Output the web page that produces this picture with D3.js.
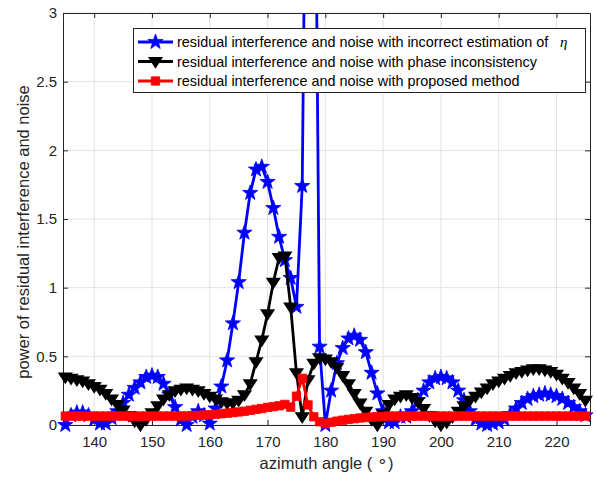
<!DOCTYPE html>
<html>
<head>
<meta charset="utf-8">
<script src="https://cdn.jsdelivr.net/npm/d3@7"></script>
<style>
	body { margin: 0; background: #ffffff; }
	svg { display: block; font-family: Arial, 'Liberation Sans', Helvetica, sans-serif; }
</style>
</head>
<body>
<svg id="chart" width="596" height="477"></svg>
<script>

// azimuth angles in degrees, one sample per degree
var aAngles = d3.range(135, 226, 1);

// residual interference and noise with incorrect estimation of eta
var aIncorrectEta = [
	0.00, 0.07, 0.09, 0.09, 0.07, 0.04, 0.01, 0.01, 0.05, 0.10,
	0.16, 0.22, 0.27, 0.31, 0.35, 0.36, 0.35, 0.30, 0.22, 0.13,
	0.04, 0.00, 0.06, 0.10, 0.07, 0.01, 0.12, 0.28, 0.47, 0.74,
	1.04, 1.40, 1.69, 1.86, 1.88, 1.77, 1.58, 1.37, 1.20, 1.07,
	0.86, 1.74, 6.00, 5.60, 0.57, 0.00, 0.25, 0.45, 0.56, 0.63,
	0.65, 0.62, 0.53, 0.38, 0.23, 0.10, 0.02, 0.02, 0.06, 0.06,
	0.10, 0.18, 0.25, 0.31, 0.34, 0.35, 0.34, 0.31, 0.25, 0.18,
	0.10, 0.04, 0.01, 0.00, 0.01, 0.02, 0.04, 0.08, 0.12, 0.16,
	0.19, 0.21, 0.22, 0.23, 0.22, 0.21, 0.19, 0.16, 0.13, 0.10,
	0.07
];

// residual interference and noise with phase inconsistency
var aPhaseInconsistency = [
	0.35, 0.34, 0.33, 0.32, 0.30, 0.28, 0.26, 0.23, 0.19, 0.15,
	0.11, 0.07, 0.03, 0.00, 0.04, 0.09, 0.14, 0.19, 0.22, 0.25,
	0.26, 0.27, 0.26, 0.25, 0.23, 0.21, 0.19, 0.17, 0.16, 0.16,
	0.18, 0.22, 0.30, 0.46, 0.62, 0.81, 1.04, 1.22, 1.23, 0.86,
	0.38, 0.06, 0.33, 0.45, 0.49, 0.48, 0.46, 0.42, 0.36, 0.30,
	0.23, 0.16, 0.10, 0.04, 0.00, 0.08, 0.15, 0.19, 0.21, 0.22,
	0.20, 0.17, 0.12, 0.07, 0.03, 0.00, 0.02, 0.06, 0.10, 0.14,
	0.18, 0.21, 0.24, 0.27, 0.30, 0.32, 0.34, 0.36, 0.38, 0.39,
	0.40, 0.41, 0.41, 0.40, 0.39, 0.37, 0.34, 0.31, 0.27, 0.23,
	0.18
];

// residual interference and noise with proposed method
var aProposed = [
	0.065, 0.065, 0.065, 0.065, 0.065, 0.065, 0.065, 0.065, 0.065, 0.065,
	0.065, 0.065, 0.065, 0.065, 0.065, 0.065, 0.065, 0.065, 0.065, 0.065,
	0.065, 0.066, 0.068, 0.070, 0.072, 0.075, 0.078, 0.082, 0.086, 0.090,
	0.095, 0.100, 0.107, 0.114, 0.120, 0.128, 0.134, 0.140, 0.150, 0.130,
	0.210, 0.340, 0.146, 0.060, 0.024, 0.010, 0.020, 0.028, 0.035, 0.041,
	0.046, 0.051, 0.055, 0.058, 0.060, 0.062, 0.065, 0.065, 0.065, 0.065,
	0.065, 0.065, 0.065, 0.065, 0.065, 0.065, 0.065, 0.065, 0.065, 0.065,
	0.065, 0.065, 0.065, 0.065, 0.065, 0.065, 0.065, 0.065, 0.065, 0.065,
	0.065, 0.065, 0.065, 0.065, 0.065, 0.065, 0.065, 0.065, 0.065, 0.065,
	0.065
];

var aXTicks = [140, 150, 160, 170, 180, 190, 200, 210, 220];
var aYTicks = [0, 0.5, 1, 1.5, 2, 2.5, 3];

var aLegendLabels = [
	'residual interference and noise with incorrect estimation of',
	'residual interference and noise with phase inconsistency',
	'residual interference and noise with proposed method'
];

function DrawChart()
{
	var sSvg = d3.select('#chart');

	const strAxisColor = '#262626';
	const strGridColor = '#e3e3e3';

	var nLeft = 63, nRight = 590, nTop = 13, nBottom = 425;

	var xScale = d3.scaleLinear().domain([134.6, 225.8]).range([nLeft, nRight]);
	var yScale = d3.scaleLinear().domain([0, 3]).range([nBottom, nTop]);

	sSvg.append('defs')
		.append('clipPath')
			.attr('id', 'plotclip')
			.append('rect')
				.attr('x', nLeft)
				.attr('y', nTop)
				.attr('width', nRight - nLeft)
				.attr('height', nBottom - nTop);

	// grid
	var sGrid = sSvg.append('g');
	sGrid.selectAll('.gx')
		.data(aXTicks)
		.enter()
			.append('line')
				.attr('x1', function(d) { return xScale(d); })
				.attr('x2', function(d) { return xScale(d); })
				.attr('y1', nTop)
				.attr('y2', nBottom)
				.style('stroke', strGridColor)
				.style('stroke-width', 1);
	sGrid.selectAll('.gy')
		.data(aYTicks)
		.enter()
			.append('line')
				.attr('x1', nLeft)
				.attr('x2', nRight)
				.attr('y1', function(d) { return yScale(d); })
				.attr('y2', function(d) { return yScale(d); })
				.style('stroke', strGridColor)
				.style('stroke-width', 1);

	// axes, ticks pointing inward, box on all sides
	var xAxisBottom = d3.axisBottom(xScale).tickValues(aXTicks).tickSizeInner(-5).tickSizeOuter(0).tickPadding(11);
	var xAxisTop = d3.axisTop(xScale).tickValues(aXTicks).tickSizeInner(-5).tickSizeOuter(0).tickFormat('');
	var yAxisLeft = d3.axisLeft(yScale).tickValues(aYTicks).tickSizeInner(-5).tickSizeOuter(0).tickPadding(6).tickFormat(d3.format('~g'));
	var yAxisRight = d3.axisRight(yScale).tickValues(aYTicks).tickSizeInner(-5).tickSizeOuter(0).tickFormat('');

	var aAxes = [
		{ axis: xAxisBottom, tr: 'translate(0,' + nBottom + ')' },
		{ axis: xAxisTop, tr: 'translate(0,' + nTop + ')' },
		{ axis: yAxisLeft, tr: 'translate(' + nLeft + ',0)' },
		{ axis: yAxisRight, tr: 'translate(' + nRight + ',0)' }
	];
	aAxes.forEach(function(a)
	{
		var sAxis = sSvg.append('g').attr('transform', a.tr).call(a.axis);
		sAxis.select('.domain').style('stroke', strAxisColor).style('stroke-width', 1);
		sAxis.selectAll('.tick line').style('stroke', strAxisColor);
		sAxis.selectAll('.tick text')
			.style('fill', strAxisColor)
			.style('font-size', '15px')
			.style('font-family', 'Arial, "Liberation Sans", sans-serif');
	});

	// marker shapes
	function StarPath(fR)
	{
		var fInner = fR * 0.4;
		var aPts = [];
		for (var i = 0; i < 10; i++)
		{
			var fA = -Math.PI / 2 + i * Math.PI / 5;
			var fRad = (i % 2 == 0) ? fR : fInner;
			aPts.push([fRad * Math.cos(fA), fRad * Math.sin(fA)]);
		}
		return 'M' + aPts.map(function(p) { return p[0].toFixed(2) + ',' + p[1].toFixed(2); }).join('L') + 'Z';
	}
	function TrianglePath(fR)
	{
		return 'M' + (-fR) + ',' + (-fR * 0.6) + 'L' + fR + ',' + (-fR * 0.6) + 'L0,' + (fR * 0.95) + 'Z';
	}
	function SquarePath(fR)
	{
		return 'M' + (-fR) + ',' + (-fR) + 'H' + fR + 'V' + fR + 'H' + (-fR) + 'Z';
	}

	var aSeries = [
		{ values: aIncorrectEta, color: '#0000ff', marker: StarPath(8), mstroke: 0.8 },
		{ values: aPhaseInconsistency, color: '#000000', marker: TrianglePath(6.2), mstroke: 1.5 },
		{ values: aProposed, color: '#ff0000', marker: SquarePath(4.2), mstroke: 0.8 }
	];

	var lineGen = d3.line()
		.x(function(d) { return xScale(d.x); })
		.y(function(d) { return yScale(d.y); });

	aSeries.forEach(function(series)
	{
		var aPoints = aAngles.map(function(a, i) { return { x: a, y: series.values[i] }; });

		sSvg.append('path')
			.datum(aPoints)
			.attr('clip-path', 'url(#plotclip)')
			.attr('d', lineGen)
			.style('fill', 'none')
			.style('stroke', series.color)
			.style('stroke-width', 2.8)
			.style('stroke-linejoin', 'round');

		sSvg.append('g').selectAll('path')
			.data(aPoints.filter(function(p) { return p.y >= 0 && p.y <= 3; }))
			.enter()
				.append('path')
					.attr('transform', function(p) { return 'translate(' + xScale(p.x) + ',' + yScale(p.y) + ')'; })
					.attr('d', series.marker)
					.style('fill', series.color)
					.style('stroke', series.color)
					.style('stroke-width', series.mstroke)
					.style('stroke-linejoin', 'miter');
	});

	// axis labels
	var sXLabel = sSvg.append('text')
		.attr('x', (nLeft + nRight) / 2)
		.attr('y', 469)
		.attr('text-anchor', 'middle')
		.style('font-size', '16.5px')
		.style('fill', strAxisColor);
	sXLabel.append('tspan').text('azimuth angle ( ');
	sXLabel.append('tspan').attr('dy', -3).text('\u2218');
	sXLabel.append('tspan').attr('dy', 3).text(')');

	sSvg.append('text')
		.attr('transform', 'translate(29,232) rotate(-90)')
		.attr('text-anchor', 'middle')
		.style('font-size', '16.5px')
		.style('fill', strAxisColor)
		.text('power of residual interference and noise');

	// legend
	var sLegend = sSvg.append('g');
	sLegend.append('rect')
		.attr('x', 133.5)
		.attr('y', 28.5)
		.attr('width', 452)
		.attr('height', 64)
		.style('fill', '#ffffff')
		.style('stroke', strAxisColor)
		.style('stroke-width', 1);

	aSeries.forEach(function(series, i)
	{
		var nY = 42 + i * 19.5;
		sLegend.append('line')
			.attr('x1', 138)
			.attr('x2', 173)
			.attr('y1', nY)
			.attr('y2', nY)
			.style('stroke', series.color)
			.style('stroke-width', 2.8);
		sLegend.append('path')
			.attr('transform', 'translate(155.5,' + nY + ')')
			.attr('d', series.marker)
			.style('fill', series.color)
			.style('stroke', series.color)
			.style('stroke-width', series.mstroke);
		sLegend.append('text')
			.attr('x', 177)
			.attr('y', nY + 5)
			.style('font-size', '14.4px')
			.style('fill', '#000000')
			.text(aLegendLabels[i]);
	});
	sLegend.append('text')
		.attr('x', 560)
		.attr('y', 42 + 5)
		.style('font-size', '15px')
		.style('font-style', 'italic')
		.style('font-family', '"Liberation Serif", "DejaVu Serif", serif')
		.style('fill', '#000000')
		.text('\u03b7');
}

DrawChart();

</script>
</body>
</html>
